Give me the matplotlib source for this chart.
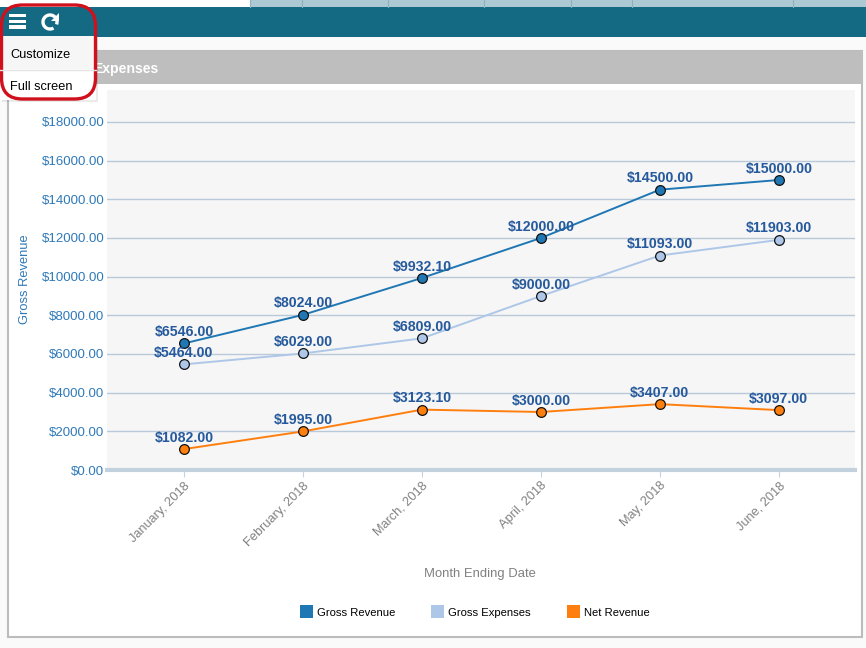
import matplotlib
matplotlib.use("Agg")
import matplotlib.pyplot as plt
from matplotlib.patches import Rectangle, FancyBboxPatch, Arc, Polygon

plt.rcParams['font.family'] = ['Liberation Sans', 'DejaVu Sans']

months = ["January, 2018", "February, 2018", "March, 2018", "April, 2018", "May, 2018", "June, 2018"]
gross_revenue = [6546.00, 8024.00, 9932.10, 12000.00, 14500.00, 15000.00]
gross_expenses = [5464.00, 6029.00, 6809.00, 9000.00, 11093.00, 11903.00]
net_revenue = [1082.00, 1995.00, 3123.10, 3000.00, 3407.00, 3097.00]
y_ticks = [0, 2000, 4000, 6000, 8000, 10000, 12000, 14000, 16000, 18000]
tab_edges = [250, 302, 388, 484, 571, 632, 793]

W, H = 866, 648
BLUE, LIGHT, ORANGE = '#1f77b4', '#aec7e8', '#ff7f0e'
LABEL = '#265a9c'
TICK = '#2f79b9'
GRID = '#b9c9d9'

fig = plt.figure(figsize=(W / 100, H / 100), dpi=100, facecolor='#fafafa')

# page chrome, in pixel coordinates
bg = fig.add_axes([0, 0, 1, 1], zorder=0)
bg.set_xlim(0, W)
bg.set_ylim(H, 0)
bg.axis('off')
bg.add_patch(Rectangle((0, 0), 250, 7, fc='white', ec='none'))
bg.add_patch(Rectangle((250, 0), W - 250, 7, fc='#adc9d3', ec='none'))
for x in tab_edges:
    bg.plot([x, x], [0, 7], color='#8fb0bd', lw=0.8)
bg.add_patch(Rectangle((0, 7), W, 29.5, fc='#136a82', ec='none'))
bg.add_patch(Rectangle((8, 51), 854, 586, fc='white', ec='#bcbcbc', lw=1.5))
bg.add_patch(Rectangle((8, 51), 855, 33, fc='#bebebe', ec='none'))
bg.text(93, 68.5, "Expenses", color='white', fontsize=10.1, fontweight='bold', va='center', ha='left')


def pos(x0, y0, x1, y1):
    return [x0 / W, 1 - y1 / H, (x1 - x0) / W, (y1 - y0) / H]


ax = fig.add_axes(pos(107, 90, 855, 470), zorder=1)
ax.set_facecolor('#f6f6f6')
for s in ax.spines.values():
    s.set_visible(False)
ax.set_xlim(-0.647, 5.64)
ax.set_ylim(0, 19655)
ax.set_yticks(y_ticks)
ax.set_yticklabels([f"${v}.00" for v in y_ticks], color=TICK, fontsize=9.5)
ax.set_xticks(range(len(months)))
ax.set_xticklabels(months, rotation=45, ha='right', rotation_mode='anchor', color='#808080', fontsize=9.2)
ax.tick_params(axis='y', length=0, pad=2)
ax.tick_params(axis='x', length=5, color='#c8d2dc', width=0.8, pad=2)
ax.grid(axis='y', color=GRID, lw=1)
ax.set_axisbelow(True)
ax.axhline(0, color='#c3d1df', lw=3, zorder=2, clip_on=False)

series = [(gross_revenue, BLUE), (gross_expenses, LIGHT), (net_revenue, ORANGE)]
for values, color in series:
    ax.plot(range(len(values)), values, color=color, lw=1.4, marker='o', ms=7,
            mfc=color, mec='#111111', mew=0.9, zorder=3)
    for i, v in enumerate(values):
        ax.annotate(f"${v:.2f}", (i, v), xytext=(0, 3.2), textcoords='offset points',
                    ha='center', va='bottom', color=LABEL, fontsize=10.2,
                    fontweight='bold', zorder=4)

# axis titles and legend on top layer
top = fig.add_axes([0, 0, 1, 1], zorder=2)
top.set_xlim(0, W)
top.set_ylim(H, 0)
top.axis('off')
top.patch.set_alpha(0)
top.text(25, 279, "Gross Revenue", color=TICK, fontsize=9.3, rotation=90, ha='center', va='center')
top.text(480, 574, "Month Ending Date", color='#808080', fontsize=9.4, ha='center', va='center')
legend_items = [(300, "Gross Revenue", BLUE), (431, "Gross Expenses", LIGHT), (567, "Net Revenue", ORANGE)]
for x, name, color in legend_items:
    top.add_patch(Rectangle((x, 605), 13, 13, fc=color, ec='none'))
    top.text(x + 17, 612.5, name, color='black', fontsize=8.1, ha='left', va='center')

# dropdown menu with shadow
top.add_patch(Rectangle((2, 38), 96, 64, fc='#000000', alpha=0.08, ec='none'))
top.add_patch(Rectangle((0, 36), 96, 64, fc='white', ec='none'))
top.add_patch(Rectangle((0, 36), 96, 33, fc='#f6f6f6', ec='none'))
top.plot([0, 96], [69.5, 69.5], color='#e4e4e4', lw=1)
top.text(10, 54.5, "Customize", color='black', fontsize=9.2, va='center')
top.text(10, 87, "Full screen", color='black', fontsize=9.2, va='center')

# toolbar icons
for y in (15.5, 21.5, 27):
    top.add_patch(Rectangle((9, y - 1.7), 17, 3.4, fc='white', ec='none'))
top.add_patch(Arc((50, 22), 14, 14, theta1=-300, theta2=20, color='white', lw=2.4))
top.add_patch(Polygon([[59, 13], [59, 21], [51, 21]], fc='white', ec='none'))

# red highlight
top.add_patch(FancyBboxPatch((1.5, 5), 94, 94, boxstyle="round,pad=0,rounding_size=21",
                             fc='none', ec='#d0101c', lw=2.4))

fig.savefig("out.png", dpi=100, facecolor=fig.get_facecolor())
